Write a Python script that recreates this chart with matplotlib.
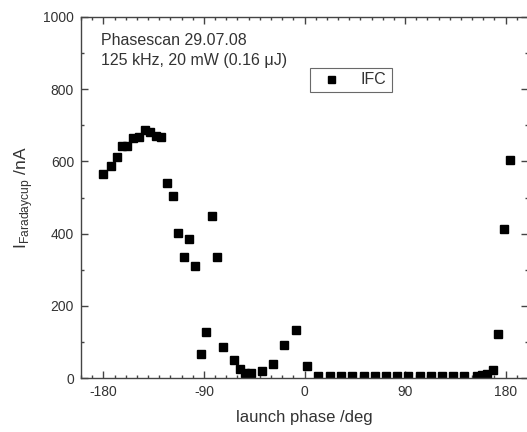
import matplotlib
matplotlib.use("Agg")
import matplotlib.pyplot as plt
from matplotlib.ticker import MultipleLocator

plt.rcParams['font.family'] = ['Liberation Sans', 'DejaVu Sans']

# launch phase (deg) and Faraday cup current (nA)
phase = [-180, -173.5, -168, -163, -158.5, -153.5, -148.5, -143, -138, -133,
         -128, -123, -118, -113, -108, -103, -98, -93, -88, -83,
         -78, -73, -63, -58, -53, -48, -38, -28, -18, -8,
         2, 12.5, 22.5, 32.5, 42.5, 53, 63, 73, 83, 93,
         103, 113, 123, 133, 143, 154, 158.5, 163.5, 168.5, 173.5,
         178.5, 183.5]
current = [566, 587, 613, 642, 644, 665, 667, 687, 682, 671,
           667, 540, 505, 402, 334, 385, 311, 66, 128, 448,
           336, 87, 50, 24, 15, 15, 20, 40, 92, 133,
           34, 6, 6, 6, 6, 6, 6, 6, 6, 6,
           6, 6, 6, 6, 6, 6, 8, 12, 22, 122,
           413, 605]

xticks = [-180, -90, 0, 90, 180]
yticks = [0, 200, 400, 600, 800, 1000]

fig = plt.figure(figsize=(5.27, 4.32), dpi=100)
ax = fig.add_axes([81 / 527, 1 - 378 / 432, 447 / 527, 361 / 432])

ax.plot(phase, current, 's', color='black', markersize=6.3, label='IFC')

ax.set_xlim(-200, 200)
ax.set_ylim(0, 1000)
ax.set_xticks(xticks)
ax.set_xticklabels([str(t) for t in xticks])
ax.set_yticks(yticks)
ax.xaxis.set_minor_locator(MultipleLocator(10))
ax.yaxis.set_minor_locator(MultipleLocator(100))

tc = '#333333'
for s in ax.spines.values():
    s.set_color('#444444')
    s.set_linewidth(1.0)
ax.tick_params(which='both', direction='in', top=True, right=True,
               color='#444444', labelcolor=tc, labelsize=10)
ax.tick_params(which='major', length=5, width=1, pad=5)
ax.tick_params(which='minor', length=2.5, width=1)

ax.set_xlabel('launch phase /deg', fontsize=12, color=tc, labelpad=8)
ax.set_ylabel(r'I$_{\mathregular{Faradaycup}}$ /nA', fontsize=12.5, color=tc, labelpad=6)

ax.text(0.045, 0.955, 'Phasescan 29.07.08\n125 kHz, 20 mW (0.16 \u03bcJ)',
        transform=ax.transAxes, fontsize=11.5, color=tc, va='top', ha='left',
        linespacing=1.4)

leg = ax.legend(loc='upper left', bbox_to_anchor=(0.512, 0.86), frameon=True,
                fancybox=False, fontsize=11.5, handletextpad=0.9,
                borderpad=0.3, borderaxespad=0, handlelength=2.0,
                markerscale=0.8)
leg.get_frame().set_edgecolor('#444444')
leg.get_frame().set_linewidth(0.8)
for t in leg.get_texts():
    t.set_color(tc)

fig.savefig('out.png', dpi=100)
